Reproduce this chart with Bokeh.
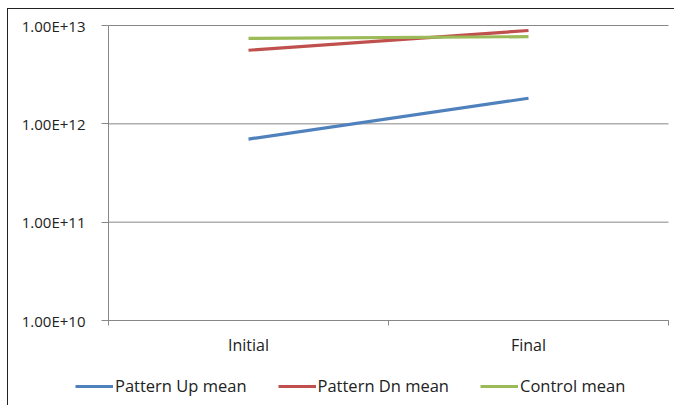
import math
from bokeh.plotting import figure
from bokeh.models import Range1d, FixedTicker, Legend, LegendItem, ColumnDataSource
from bokeh.embed import file_html
from bokeh.resources import INLINE

categories = ["Initial", "Final"]
pattern_up = [7.0e11, 1.82e12]
pattern_dn = [5.6e12, 8.9e12]
control = [7.4e12, 7.7e12]
y_ticks = [1e10, 1e11, 1e12, 1e13]
y_tick_labels = ["1.00E+10", "1.00E+11", "1.00E+12", "1.00E+13"]
series_names = ["Pattern Up mean", "Pattern Dn mean", "Control mean"]
series_colors = ["#4F81BD", "#C0504D", "#9BBB59"]

FONT = "Open Sans"
GRAY = "#878787"

# layout in pixels (figure content is 667 x 397); the frame fills all of it and
# the plot area inside it spans 560 x 295 px, offset 100 px left / 16 px top
W, H = 667, 397
AREA_LEFT, AREA_TOP, AREA_W, AREA_H = 100, 16, 560, 295
n_cat = len(categories)
px_per_cat = AREA_W / n_cat
x_start = -AREA_LEFT / px_per_cat
x_end = n_cat + (W - AREA_LEFT - AREA_W) / px_per_cat
lo, hi = math.log10(y_ticks[0]), math.log10(y_ticks[-1])
px_per_dec = AREA_H / (hi - lo)
y_end = 10 ** (hi + AREA_TOP / px_per_dec)
y_start = 10 ** (lo - (H - AREA_TOP - AREA_H) / px_per_dec)

xs = [i + 0.5 for i in range(n_cat)]

p = figure(width=W, height=H, output_backend="svg", toolbar_location=None,
           y_axis_type="log",
           x_range=Range1d(x_start, x_end), y_range=Range1d(y_start, y_end),
           min_border_left=0, min_border_top=0, min_border_right=0, min_border_bottom=0)
p.styles = {"margin-left": "7px", "margin-top": "8px",
            "border-left": "1px solid #222", "border-top": "1px solid #222"}
p.outline_line_color = None
p.background_fill_color = "white"
p.border_fill_color = "white"
p.xgrid.visible = False
p.ygrid.visible = False

# horizontal gridlines across the category span
p.segment(x0=[0] * len(y_ticks), x1=[n_cat] * len(y_ticks), y0=y_ticks, y1=y_ticks,
          line_color=GRAY, line_width=1)

renderers = []
for vals, color in zip([pattern_up, pattern_dn, control], series_colors):
    src = ColumnDataSource(dict(x=xs, y=vals))
    r = p.line("x", "y", source=src, line_color=color, line_width=3.2)
    renderers.append(r)

# y axis at the left edge of the category span
p.yaxis.fixed_location = 0
p.yaxis.ticker = FixedTicker(ticks=y_ticks)
p.yaxis.bounds = (y_ticks[0], y_ticks[-1])
p.yaxis.major_label_overrides = {t: l for t, l in zip(y_ticks, y_tick_labels)}
p.yaxis.axis_line_color = GRAY
p.yaxis.major_tick_line_color = GRAY
p.yaxis.major_tick_out = 7
p.yaxis.major_tick_in = 0
p.yaxis.minor_tick_line_color = None
p.yaxis.major_label_standoff = 16
p.yaxis.major_label_text_font = FONT
p.yaxis.major_label_text_font_size = "15px"
p.yaxis.major_label_text_color = "#222222"

# x axis at the bottom tick value
p.xaxis.fixed_location = y_ticks[0]
p.xaxis.bounds = (0, n_cat)
p.xaxis.ticker = FixedTicker(ticks=xs, minor_ticks=[float(i) for i in range(n_cat + 1)])
p.xaxis.major_label_overrides = {x: c for x, c in zip(xs, categories)}
p.xaxis.axis_line_color = GRAY
p.xaxis.major_tick_line_color = None
p.xaxis.major_tick_out = 0
p.xaxis.major_tick_in = 0
p.xaxis.minor_tick_line_color = GRAY
p.xaxis.minor_tick_out = 5
p.xaxis.minor_tick_in = 0
p.xaxis.major_label_standoff = 8
p.xaxis.major_label_text_font = FONT
p.xaxis.major_label_text_font_size = "16px"
p.xaxis.major_label_text_color = "#222222"

legend = Legend(items=[LegendItem(label=n, renderers=[r]) for n, r in zip(series_names, renderers)],
                orientation="horizontal", location=(67, 9),
                glyph_width=38, glyph_height=20, label_height=20, label_standoff=2,
                spacing=31, padding=0, margin=0,
                border_line_color=None, background_fill_alpha=0,
                label_text_font=FONT, label_text_font_size="16.5px", label_text_color="#222222")
p.add_layout(legend)

open("out.html", "w").write(file_html(p, INLINE))
